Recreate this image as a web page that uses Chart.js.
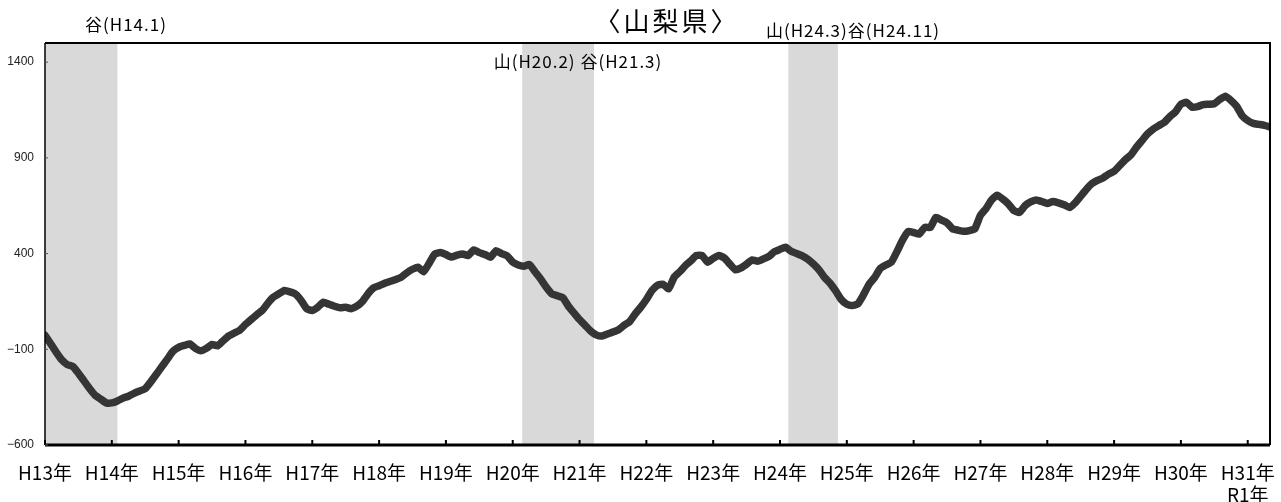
<!DOCTYPE html>
<html>
<head>
<meta charset="utf-8">
<script src="https://cdn.jsdelivr.net/npm/chart.js@4.4.1/dist/chart.umd.min.js"></script>
<style>
  html, body { margin: 0; padding: 0; background: #fff; }
  canvas { display: block; }
</style>
</head>
<body>
<canvas id="chart" width="1281" height="502"></canvas>
<script>
// 山梨県 monthly series, H13.1 (Jan 2001) .. R1.5 (May 2019)
const yearLabels = ['H13年', 'H14年', 'H15年', 'H16年', 'H17年', 'H18年', 'H19年', 'H20年', 'H21年',
  'H22年', 'H23年', 'H24年', 'H25年', 'H26年', 'H27年', 'H28年', 'H29年', 'H30年', ['H31年', 'R1年']];

const values = [
  -27, -70, -115, -155, -180, -190, -225, -265, -305, -340, -360, -380,      // H13
  -380, -370, -355, -345, -330, -318, -305, -270, -230, -190, -150, -110,    // H14
  -90, -80, -72, -95, -108, -95, -75, -82, -55, -30, -15, 0,                 // H15
  30, 55, 80, 103, 140, 172, 190, 207, 200, 188, 155, 112,                   // H16
  103, 120, 146, 135, 125, 117, 120, 112, 125, 150, 190, 221,                // H17
  232, 245, 255, 265, 277, 300, 318, 329, 305, 350, 398, 405,                // H18
  395, 382, 392, 398, 390, 419, 405, 395, 381, 415, 400, 388,                // H19
  355, 340, 334, 343, 305, 268, 225, 190, 180, 170, 125, 90,                 // H20
  55, 25, -5, -25, -31, -20, -10, 2, 25, 45, 85, 120,                        // H21
  160, 207, 235, 240, 216, 277, 305, 337, 362, 390, 390, 355,                // H22
  375, 390, 377, 345, 315, 325, 345, 367, 360, 372, 385, 410,                // H23
  422, 433, 412, 400, 388, 370, 345, 315, 275, 245, 205, 160,                // H24
  135, 129, 138, 185, 240, 275, 322, 340, 355, 410, 470, 515,                // H25
  510, 502, 537, 537, 589, 575, 560, 529, 522, 516, 520, 530,                // H26
  600, 635, 680, 705, 685, 660, 625, 615, 650, 670, 680, 672,                // H27
  662, 672, 665, 655, 641, 665, 700, 735, 765, 782, 795, 815,                // H28
  830, 860, 890, 915, 955, 990, 1025, 1050, 1068, 1085, 1115, 1140,          // H29
  1180, 1190, 1165, 1168, 1178, 1180, 1183, 1205, 1222, 1200, 1170, 1120,    // H30
  1095, 1080, 1075, 1070, 1062                                               // H31/R1
];

const yTicks = [-600, -100, 400, 900, 1400];

// recession periods in month index (peak -> trough)
const bandStart = [0, 85.7, 133.5];
const bandEnd = [13, 98.6, 142.4];

const titleText = '〈山梨県〉';
const notes = ['谷(H14.1)', '山(H20.2) 谷(H21.3)', '山(H24.3)谷(H24.11)'];

const jpFont = '"Noto Sans CJK JP", "Noto Sans", sans-serif';

// Shaded recession bands + frame, ticks, notes
const decorPlugin = {
  id: 'decor',
  beforeDatasetsDraw(chart) {
    const { ctx, chartArea, scales } = chart;
    ctx.save();
    ctx.fillStyle = '#d9d9d9';
    for (let i = 0; i < bandStart.length; i++) {
      const x1 = scales.x.getPixelForValue(bandStart[i]);
      const x2 = scales.x.getPixelForValue(bandEnd[i]);
      ctx.fillRect(x1, chartArea.top, x2 - x1, chartArea.bottom - chartArea.top);
    }
    ctx.restore();
  },
  afterDraw(chart) {
    const { ctx, chartArea, scales } = chart;
    const { left, right, top, bottom } = chartArea;
    ctx.save();
    ctx.strokeStyle = '#000';
    // frame
    ctx.lineWidth = 1.5;
    ctx.beginPath();
    ctx.moveTo(left, top); ctx.lineTo(left, bottom);
    ctx.stroke();
    ctx.lineWidth = 2;
    ctx.beginPath();
    ctx.moveTo(left, top); ctx.lineTo(right, top); ctx.lineTo(right, bottom);
    ctx.stroke();
    ctx.lineWidth = 3;
    ctx.beginPath();
    ctx.moveTo(left, bottom); ctx.lineTo(right, bottom);
    ctx.stroke();
    // inward tick marks
    ctx.lineWidth = 2;
    scales.x.ticks.forEach(t => {
      const x = scales.x.getPixelForValue(t.value);
      ctx.beginPath(); ctx.moveTo(x, bottom); ctx.lineTo(x, bottom - 5); ctx.stroke();
    });
    ctx.lineWidth = 1;
    ctx.strokeStyle = '#555';
    scales.y.ticks.forEach(t => {
      const y = scales.y.getPixelForValue(t.value);
      ctx.beginPath(); ctx.moveTo(left, y); ctx.lineTo(left + 3, y); ctx.stroke();
    });
    // title and turning-point notes
    ctx.fillStyle = '#000';
    ctx.textAlign = 'center';
    ctx.textBaseline = 'middle';
    ctx.letterSpacing = '3px';
    ctx.font = '26px ' + jpFont;
    ctx.fillText(titleText, 667, 21);
    ctx.letterSpacing = '1px';
    ctx.font = '17px ' + jpFont;
    ctx.fillText(notes[0], 126, 25);
    ctx.fillText(notes[1], 578, 62);
    ctx.fillText(notes[2], 853, 31);
    ctx.restore();
  }
};

const ctx = document.getElementById('chart').getContext('2d');
new Chart(ctx, {
  type: 'line',
  data: {
    datasets: [{
      data: values.map((v, i) => ({ x: i, y: v })),
      borderColor: '#353535',
      borderWidth: 7.5,
      pointRadius: 0,
      tension: 0.15,
      borderJoinStyle: 'round',
      borderCapStyle: 'round',
      fill: false
    }]
  },
  options: {
    responsive: false,
    devicePixelRatio: 1,
    animation: false,
    layout: { padding: { top: 43, right: 11, left: 0, bottom: 0 } },
    plugins: {
      legend: { display: false },
      tooltip: { enabled: false },
      title: { display: false }
    },
    scales: {
      x: {
        type: 'linear',
        min: 0,
        max: values.length - 1,
        afterBuildTicks(scale) {
          scale.ticks = yearLabels.map((_, i) => ({ value: i * 12 }));
        },
        afterFit(scale) {
          scale.height = 57;
          scale.paddingLeft = 0;
          scale.paddingRight = 0;
        },
        grid: { display: false, drawTicks: false },
        border: { display: false },
        ticks: {
          autoSkip: false,
          maxRotation: 0,
          padding: 16,
          color: '#000',
          font: { family: jpFont, size: 19 },
          callback: value => yearLabels[Math.round(value / 12)]
        }
      },
      y: {
        min: -600,
        max: 1500,
        afterBuildTicks(scale) {
          scale.ticks = yTicks.map(v => ({ value: v }));
        },
        afterFit(scale) {
          scale.width = 45;
          scale.paddingTop = 0;
          scale.paddingBottom = 0;
        },
        grid: { display: false, drawTicks: false },
        border: { display: false },
        ticks: {
          padding: 11,
          color: '#222',
          font: { family: 'Liberation Sans', size: 12 },
          callback: value => String(value).replace('-', '\u2212')
        }
      }
    }
  },
  plugins: [decorPlugin]
});
</script>
</body>
</html>
